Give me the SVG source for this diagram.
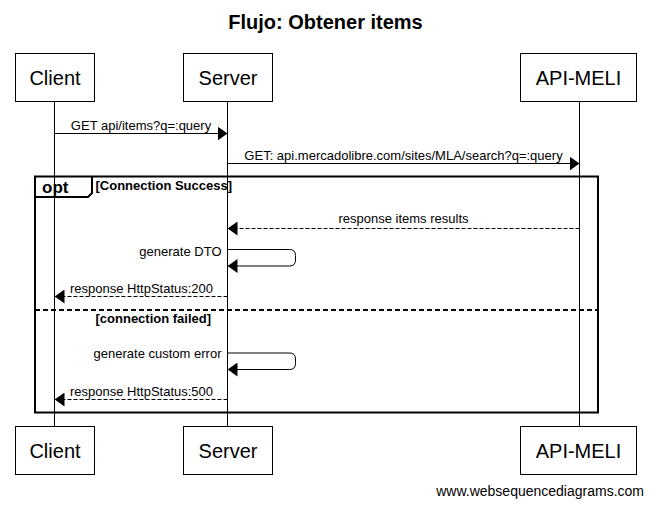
<svg xmlns="http://www.w3.org/2000/svg" width="651" height="509" viewBox="0 0 651 509">
<style>
  text { font-family: "Liberation Sans", Arial, sans-serif; fill: #000; }
  .title { font-size: 20px; font-weight: bold; }
  .actor rect { fill: #fff; stroke: #000; stroke-width: 1; }
  .actor text { font-size: 20px; text-anchor: middle; }
  .life { stroke: #000; stroke-width: 1; fill: none; }
  .msg { stroke: #000; stroke-width: 1; fill: none; }
  .dash { stroke-dasharray: 4 2; }
  .lbl { font-size: 13px; }
  .mid { text-anchor: middle; }
  .end { text-anchor: end; }
  .frame { fill: none; stroke: #000; stroke-width: 2; }
  .cond { font-size: 13px; font-weight: bold; }
  .wm { font-size: 14px; text-anchor: end; }
</style>
<defs>
  <marker id="ah" viewBox="0 0 10 14" refX="10" refY="7" markerWidth="10" markerHeight="14" markerUnits="userSpaceOnUse" orient="auto">
    <path d="M0,0 L10,7 L0,14 Z" fill="#000"/>
  </marker>
</defs>
<text class="title" x="325.5" y="29" text-anchor="middle">Flujo: Obtener items</text>

<g id="lifelines">
  <line class="life" x1="54.5" y1="101.5" x2="54.5" y2="426.5"/>
  <line class="life" x1="227.5" y1="101.5" x2="227.5" y2="426.5"/>
  <line class="life" x1="579.5" y1="101.5" x2="579.5" y2="426.5"/>
</g>

<g id="opt-frame">
  <rect class="frame" x="35" y="176.5" width="563" height="236"/>
  <path class="frame" d="M35,197 L88,197 L92,193 L92,176.5"/>
  <text x="42" y="193" style="font-size:17px;font-weight:bold">opt</text>
  <text class="cond" x="95.5" y="190">[Connection Success]</text>
  <line class="frame" x1="35" y1="310" x2="598" y2="310" stroke-dasharray="5 3"/>
  <text class="cond" x="95.5" y="323">[connection failed]</text>
</g>

<g id="connectors">
  <line class="msg" x1="54.5" y1="133.5" x2="227.5" y2="133.5" marker-end="url(#ah)"/>
  <text class="lbl mid" x="141" y="129.5">GET api/items?q=:query</text>

  <line class="msg" x1="227.5" y1="163.5" x2="579.5" y2="163.5" marker-end="url(#ah)"/>
  <text class="lbl mid" x="403.5" y="160">GET: api.mercadolibre.com/sites/MLA/search?q=:query</text>

  <line class="msg dash" x1="579.5" y1="228.5" x2="227.5" y2="228.5" marker-end="url(#ah)"/>
  <text class="lbl mid" x="403.5" y="223">response items results</text>

  <path class="msg" d="M227.5,249.5 L289.5,249.5 Q295.5,249.5 295.5,255.5 L295.5,260 Q295.5,266 289.5,266 L227.5,266" marker-end="url(#ah)"/>
  <text class="lbl end" x="221.5" y="255.5">generate DTO</text>

  <line class="msg dash" x1="227.5" y1="296.5" x2="54.5" y2="296.5" marker-end="url(#ah)"/>
  <text class="lbl mid" x="141.5" y="293">response HttpStatus:200</text>

  <path class="msg" d="M227.5,353 L289.5,353 Q295.5,353 295.5,359 L295.5,363.5 Q295.5,369.5 289.5,369.5 L227.5,369.5" marker-end="url(#ah)"/>
  <text class="lbl end" x="221.5" y="358">generate custom error</text>

  <line class="msg dash" x1="227.5" y1="399.5" x2="54.5" y2="399.5" marker-end="url(#ah)"/>
  <text class="lbl mid" x="141.5" y="396">response HttpStatus:500</text>
</g>

<g id="client-top" class="actor"><rect x="15.5" y="53.5" width="79" height="48"/><text x="55" y="84.5">Client</text></g>
<g id="server-top" class="actor"><rect x="183.5" y="53.5" width="89" height="48"/><text x="228" y="84.5">Server</text></g>
<g id="api-top" class="actor"><rect x="520.5" y="53.5" width="116" height="48"/><text x="578.5" y="84.5">API-MELI</text></g>

<g id="client-bottom" class="actor"><rect x="15.5" y="426.5" width="79" height="48"/><text x="55" y="457.5">Client</text></g>
<g id="server-bottom" class="actor"><rect x="183.5" y="426.5" width="89" height="48"/><text x="228" y="457.5">Server</text></g>
<g id="api-bottom" class="actor"><rect x="520.5" y="426.5" width="116" height="48"/><text x="578.5" y="457.5">API-MELI</text></g>

<text class="wm" x="644" y="496">www.websequencediagrams.com</text>
</svg>
